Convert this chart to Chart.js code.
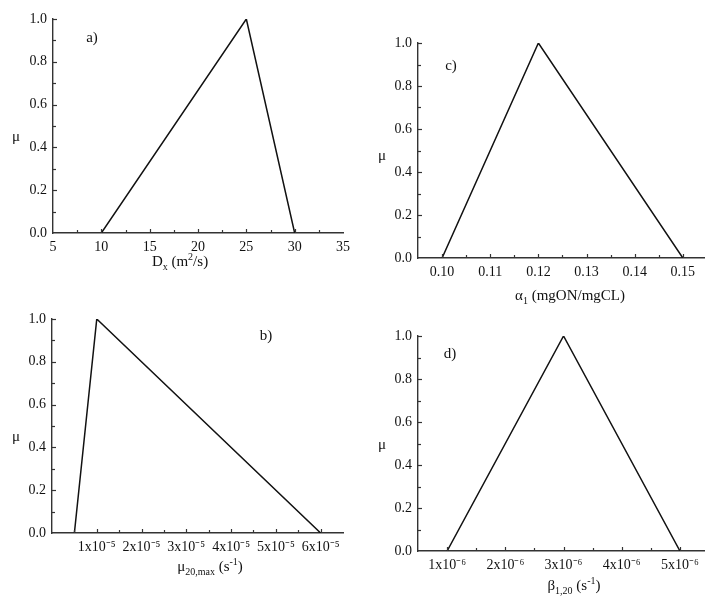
<!DOCTYPE html>
<html>
<head>
<meta charset="utf-8">
<script src="https://cdn.jsdelivr.net/npm/chart.js@4.4.1/dist/chart.umd.min.js"></script>
<style>
  body { margin: 0; background: #fff; }
  #wrap { position: relative; width: 705px; height: 596px; }
  #wrap canvas { position: absolute; left: 0; top: 0; }
</style>
</head>
<body>
<div id="wrap">
  <canvas id="panelA" width="705" height="596"></canvas>
  <canvas id="panelB" width="705" height="596"></canvas>
  <canvas id="panelC" width="705" height="596"></canvas>
  <canvas id="panelD" width="705" height="596"></canvas>
</div>
<script>
// triangular membership functions (parameter value -> membership)
var dxValues = [10, 25, 30];
var dxMu = [0, 1, 0];
var muMaxValues = [5e-6, 1e-5, 6e-5];
var muMaxMu = [0, 1, 0];
var alphaValues = [0.10, 0.12, 0.15];
var alphaMu = [0, 1, 0];
var betaValues = [1e-6, 3e-6, 5e-6];
var betaMu = [0, 1, 0];

// labelled ticks
var muTickValues = [0, 0.2, 0.4, 0.6, 0.8, 1.0];
var muTickLabels = ['0.0', '0.2', '0.4', '0.6', '0.8', '1.0'];
var dxTickValues = [5, 10, 15, 20, 25, 30, 35];
var dxTickLabels = ['5', '10', '15', '20', '25', '30', '35'];
var muMaxTickValues = [1e-5, 2e-5, 3e-5, 4e-5, 5e-5, 6e-5];
var muMaxTickLabels = ['1x10\u207B\u2075', '2x10\u207B\u2075', '3x10\u207B\u2075', '4x10\u207B\u2075', '5x10\u207B\u2075', '6x10\u207B\u2075'];
var alphaTickValues = [0.10, 0.11, 0.12, 0.13, 0.14, 0.15];
var alphaTickLabels = ['0.10', '0.11', '0.12', '0.13', '0.14', '0.15'];
var betaTickValues = [1e-6, 2e-6, 3e-6, 4e-6, 5e-6];
var betaTickLabels = ['1x10\u207B\u2076', '2x10\u207B\u2076', '3x10\u207B\u2076', '4x10\u207B\u2076', '5x10\u207B\u2076'];

var FONT = '"Liberation Serif", "Times New Roman", serif';
var INK = '#111';
Chart.defaults.font.family = FONT;
Chart.defaults.color = INK;

function labelFor(values, labels) {
  return function(v) {
    for (var i = 0; i < values.length; i++) {
      if (Math.abs(v - values[i]) <= Math.abs(values[i]) * 1e-6 + 1e-12) return labels[i];
    }
    return '';
  };
}

// major + minor tick positions between first and last, every step
function tickRun(first, last, step) {
  return function(scale) {
    var out = [];
    var n = Math.round((last - first) / step);
    for (var i = 0; i <= n; i++) out.push({ value: first + i * step });
    scale.ticks = out;
  };
}

// text with sub/superscript parts, centred on cx, baseline at y
function drawRich(ctx, parts, cx, y, size) {
  var total = 0;
  parts.forEach(function(p) {
    ctx.font = Math.round(p.sub || p.sup ? size * 0.68 : size) + 'px ' + FONT;
    p.w = ctx.measureText(p.t).width;
    total += p.w;
  });
  var x = cx - total / 2;
  parts.forEach(function(p) {
    ctx.font = Math.round(p.sub || p.sup ? size * 0.68 : size) + 'px ' + FONT;
    var dy = p.sub ? size * 0.28 : (p.sup ? -size * 0.4 : 0);
    ctx.fillText(p.t, x, y + dy);
    x += p.w;
  });
}

// short ticks pointing into the plot, plus the panel letter and axis titles
var panelDecor = {
  id: 'panelDecor',
  afterDraw: function(chart, args, opts) {
    var ctx = chart.ctx;
    var xs = chart.scales.x, ys = chart.scales.y;
    var area = chart.chartArea;
    ctx.save();
    ctx.strokeStyle = '#333';
    ctx.lineWidth = 1.2;
    xs.ticks.forEach(function(t) {
      var px = Math.round(xs.getPixelForValue(t.value)) + 0.5;
      if (px <= area.left + 1 || px >= area.right - 1) return;
      var len = t.label ? 4 : 3;
      ctx.beginPath();
      ctx.moveTo(px, area.bottom);
      ctx.lineTo(px, area.bottom - len);
      ctx.stroke();
    });
    ys.ticks.forEach(function(t) {
      var py = Math.round(ys.getPixelForValue(t.value)) + 0.5;
      if (py >= area.bottom - 1) return;
      var len = t.label ? 4 : 3;
      ctx.beginPath();
      ctx.moveTo(area.left, py);
      ctx.lineTo(area.left + len, py);
      ctx.stroke();
    });

    ctx.fillStyle = INK;
    ctx.textBaseline = 'alphabetic';
    ctx.textAlign = 'left';
    drawRich(ctx, opts.title, opts.titleX, opts.titleY, 15);
    drawRich(ctx, [{ t: '\u03BC' }], opts.muX, opts.muY, 15);
    drawRich(ctx, [{ t: opts.letter }], opts.letterX, opts.letterY, 15);
    ctx.restore();
  }
};

function makePanel(id, xs, ys, box, xAxis, decor) {
  var yWidth = 42, xHeight = 30;
  return new Chart(document.getElementById(id), {
    type: 'line',
    data: {
      datasets: [{
        data: xs.map(function(v, i) { return { x: v, y: ys[i] }; }),
        borderColor: INK,
        borderWidth: 1.5,
        pointRadius: 0,
        fill: false,
        tension: 0
      }]
    },
    options: {
      responsive: false,
      animation: false,
      events: [],
      layout: {
        padding: {
          left: box.left - yWidth,
          top: box.top,
          right: 705 - box.right,
          bottom: 596 - box.bottom - xHeight
        }
      },
      plugins: {
        legend: { display: false },
        tooltip: { enabled: false },
        panelDecor: decor
      },
      scales: {
        x: {
          type: 'linear',
          min: xAxis.min,
          max: xAxis.max,
          afterBuildTicks: tickRun(xAxis.first, xAxis.last, xAxis.step),
          afterFit: function(s) { s.height = xHeight; },
          grid: { display: false, drawTicks: false },
          border: { display: true, color: '#333', width: 1.4 },
          ticks: {
            autoSkip: false,
            maxRotation: 0,
            padding: 6,
            font: { size: 14 },
            callback: labelFor(xAxis.tickValues, xAxis.tickLabels)
          }
        },
        y: {
          type: 'linear',
          min: 0,
          max: 1,
          afterBuildTicks: tickRun(0, 1, 0.1),
          afterFit: function(s) { s.width = yWidth; },
          grid: { display: false, drawTicks: false },
          border: { display: true, color: '#333', width: 1.4 },
          ticks: {
            autoSkip: false,
            padding: 6,
            font: { size: 14 },
            callback: labelFor(muTickValues, muTickLabels)
          }
        }
      }
    },
    plugins: [panelDecor]
  });
}

makePanel('panelA', dxValues, dxMu,
  { left: 53, right: 343, top: 19, bottom: 233 },
  { min: 5, max: 35, first: 5, last: 35, step: 2.5, tickValues: dxTickValues, tickLabels: dxTickLabels },
  { letter: 'a)', letterX: 92, letterY: 42, muX: 16, muY: 141, titleX: 180, titleY: 266,
    title: [{ t: 'D' }, { t: 'x', sub: true }, { t: ' (m' }, { t: '2', sup: true }, { t: '/s)' }] });

makePanel('panelB', muMaxValues, muMaxMu,
  { left: 52, right: 343, top: 319, bottom: 533 },
  { min: 0, max: 6.5e-5, first: 0, last: 6.5e-5, step: 5e-6, tickValues: muMaxTickValues, tickLabels: muMaxTickLabels },
  { letter: 'b)', letterX: 266, letterY: 340, muX: 16, muY: 441, titleX: 210, titleY: 571,
    title: [{ t: '\u03BC' }, { t: '20,max', sub: true }, { t: ' (s' }, { t: '-1', sup: true }, { t: ')' }] });

makePanel('panelC', alphaValues, alphaMu,
  { left: 418, right: 705, top: 43, bottom: 258 },
  { min: 0.095, max: 0.1546, first: 0.095, last: 0.15, step: 0.005, tickValues: alphaTickValues, tickLabels: alphaTickLabels },
  { letter: 'c)', letterX: 451, letterY: 70, muX: 382, muY: 160, titleX: 570, titleY: 300,
    title: [{ t: '\u03B1' }, { t: '1', sub: true }, { t: ' (mgON/mgCL)' }] });

makePanel('panelD', betaValues, betaMu,
  { left: 418, right: 705, top: 336, bottom: 551 },
  { min: 5e-7, max: 5.43e-6, first: 5e-7, last: 5e-6, step: 5e-7, tickValues: betaTickValues, tickLabels: betaTickLabels },
  { letter: 'd)', letterX: 450, letterY: 358, muX: 382, muY: 449, titleX: 574, titleY: 590,
    title: [{ t: '\u03B2' }, { t: '1,20', sub: true }, { t: ' (s' }, { t: '-1', sup: true }, { t: ')' }] });
</script>
</body>
</html>
